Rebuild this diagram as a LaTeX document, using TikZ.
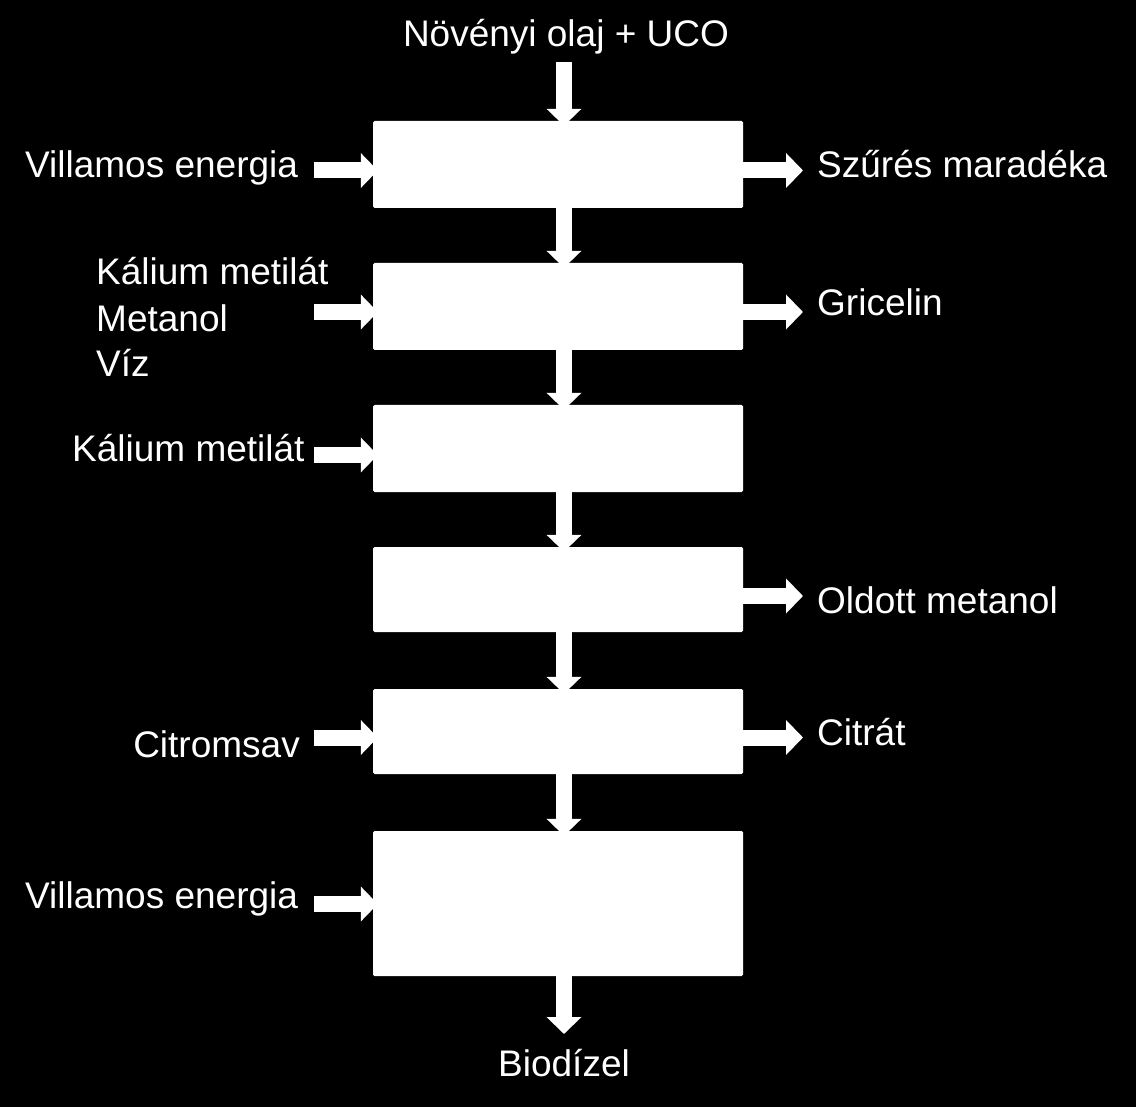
\documentclass[tikz,border=0pt]{standalone}
\usepackage{fontspec}
\setmainfont{Liberation Sans}
\usetikzlibrary{arrows.meta}
\begin{document}
\begin{tikzpicture}[x=1pt,y=-1pt,
  box/.style={fill=white,draw=none,rounded corners=1.5pt,inner sep=0pt,minimum width=370pt},
  flow/.style={draw=white,line width=16pt,-{Triangle[width=34pt,length=17pt]}},
  lbl/.style={text=white,inner sep=0pt,font=\fontsize{37}{46}\selectfont}]
\fill[black] (0,0) rectangle (1136,1107);
\useasboundingbox (0,0) rectangle (1136,1107);
% boxes
\node[box,minimum height=87pt] (b1) at (558,164.5) {};
\node[box,minimum height=87pt] (b2) at (558,306.5) {};
\node[box,minimum height=87pt] (b3) at (558,448.5) {};
\node[box,minimum height=85pt] (b4) at (558,589.5) {};
\node[box,minimum height=85pt] (b5) at (558,731.5) {};
\node[box,minimum height=145pt] (b6) at (558,903.5) {};
% coordinates
\coordinate (top) at (564,62);
\coordinate (bot) at (564,1034);
\coordinate (l1) at (314,170.5);
\coordinate (l2) at (314,312);
\coordinate (l3) at (314,455);
\coordinate (l5) at (314,737.5);
\coordinate (l6) at (314,904);
\coordinate (r1) at (803,170.5);
\coordinate (r2) at (803,312);
\coordinate (r4) at (803,596);
\coordinate (r5) at (803,737.5);
% vertical arrows
\draw[flow,shorten >=-5pt] (top) -- (b1.north -| top);
\draw[flow,shorten >=-5pt] (b1.south -| top) -- (b2.north -| top);
\draw[flow,shorten >=-5pt] (b2.south -| top) -- (b3.north -| top);
\draw[flow,shorten >=-5pt] (b3.south -| top) -- (b4.north -| top);
\draw[flow,shorten >=-5pt] (b4.south -| top) -- (b5.north -| top);
\draw[flow,shorten >=-5pt] (b5.south -| top) -- (b6.north -| top);
\draw[flow] (b6.south -| top) -- (bot);
% input arrows
\draw[flow,shorten >=-5pt] (l1) -- (b1.west |- l1);
\draw[flow,shorten >=-5pt] (l2) -- (b2.west |- l2);
\draw[flow,shorten >=-5pt] (l3) -- (b3.west |- l3);
\draw[flow,shorten >=-5pt] (l5) -- (b5.west |- l5);
\draw[flow,shorten >=-5pt] (l6) -- (b6.west |- l6);
% output arrows
\draw[flow] (b1.east |- r1) -- (r1);
\draw[flow] (b2.east |- r2) -- (r2);
\draw[flow] (b4.east |- r4) -- (r4);
\draw[flow] (b5.east |- r5) -- (r5);
% labels
\node[lbl,anchor=base] (tin) at (566,47) {Növényi olaj + UCO};
\node[lbl,anchor=base] (tout) at (564,1076) {Biodízel};
\node[lbl,anchor=base west] (t1) at (25,178) {Villamos energia};
\node[lbl,anchor=base west] (t2a) at (96,285) {Kálium metilát};
\node[lbl,anchor=base west] (t2b) at (96,332) {Metanol};
\node[lbl,anchor=base west] (t2c) at (96,377) {Víz};
\node[lbl,anchor=base west] (t3) at (72,461) {Kálium metilát};
\node[lbl,anchor=base east] (t5) at (300,757) {Citromsav};
\node[lbl,anchor=base west] (t6) at (25,908) {Villamos energia};
\node[lbl,anchor=base west] (o1) at (817,178) {Szűrés maradéka};
\node[lbl,anchor=base west] (o2) at (817,316) {Gricelin};
\node[lbl,anchor=base west] (o4) at (817,613) {Oldott metanol};
\node[lbl,anchor=base west] (o5) at (817,745) {Citrát};
\end{tikzpicture}
\end{document}
